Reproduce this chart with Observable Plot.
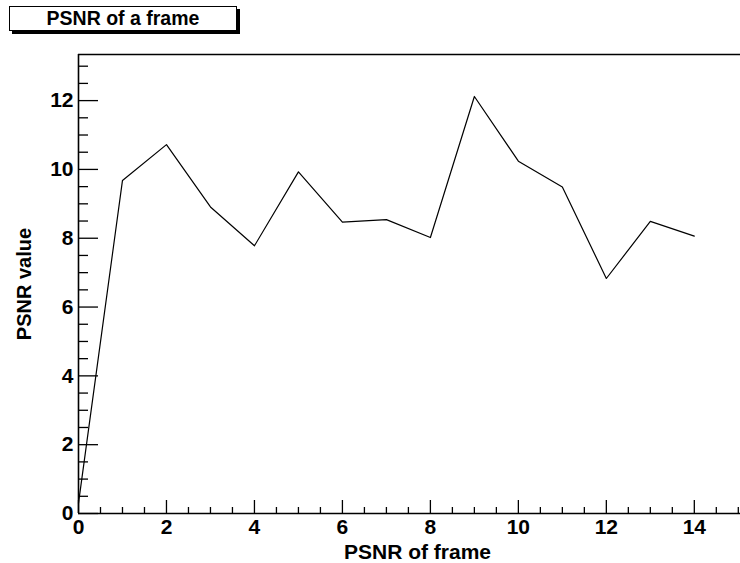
<!DOCTYPE html>
<html>
<head>
<meta charset="utf-8">
<script src="https://cdn.jsdelivr.net/npm/d3@7"></script>
<script src="https://cdn.jsdelivr.net/npm/@observablehq/plot@0.6"></script>
<style>
  html, body { margin: 0; padding: 0; background: #fff; }
  #wrap { position: relative; width: 740px; height: 563px; }
  #title {
    position: absolute; left: 9px; top: 6px; width: 228px; height: 25px;
    border: 1.5px solid #000; background: #fff; box-shadow: 3px 3px 0 #000;
    font: bold 19.5px "Liberation Sans", Arial, sans-serif; text-align: center;
    line-height: 22px; box-sizing: border-box; z-index: 2;
  }
</style>
</head>
<body>
<div id="wrap"><div id="title">PSNR of a frame</div></div>
<script>
const frames = [0, 1, 2, 3, 4, 5, 6, 7, 8, 9, 10, 11, 12, 13, 14];
const psnr   = [0.3, 9.68, 10.72, 8.91, 7.78, 9.93, 8.47, 8.54, 8.02, 12.12, 10.24, 9.49, 6.83, 8.49, 8.06];

const xDomain = [0, 15.05];
const yDomain = [0, 13.34];
const xMajor = [0, 2, 4, 6, 8, 10, 12, 14];
const xMinor = [0.5, 1, 1.5, 2.5, 3, 3.5, 4.5, 5, 5.5, 6.5, 7, 7.5, 8.5, 9, 9.5, 10.5, 11, 11.5, 12.5, 13, 13.5, 14.5, 15];
const yMajor = [0, 2, 4, 6, 8, 10, 12];
const yMinor = [0.5, 1, 1.5, 2.5, 3, 3.5, 4.5, 5, 5.5, 6.5, 7, 7.5, 8.5, 9, 9.5, 10.5, 11, 11.5, 12.5, 13];
const xTitle = ["PSNR of frame"];
const yTitle = ["PSNR value"];

const data = frames.map((f, i) => ({frame: f, value: psnr[i]}));

const chart = Plot.plot({
  width: 740,
  height: 563,
  marginTop: 54,
  marginLeft: 78,
  marginRight: 0,
  marginBottom: 50,
  style: {fontFamily: "'Liberation Sans', Arial, sans-serif", fontSize: "21px", fontWeight: "bold", color: "#000", background: "#fff"},
  x: {domain: xDomain, axis: null},
  y: {domain: yDomain, axis: null},
  marks: [
    Plot.ruleY([yDomain[1]], {stroke: "#000", strokeWidth: 1.5}),
    Plot.ruleX([xDomain[0]], {stroke: "#000", strokeWidth: 1.6}),
    Plot.ruleY([yDomain[0]], {stroke: "#000", strokeWidth: 1.6}),
    // y ticks (inward)
    Plot.axisY(yMajor, {anchor: "left", tickSize: -20, tickFormat: () => "", strokeWidth: 1.3, label: null}),
    Plot.axisY(yMinor, {anchor: "left", tickSize: -10, tickFormat: () => "", strokeWidth: 1.3, label: null}),
    Plot.axisY(yMajor, {anchor: "left", tickSize: 0, tickPadding: 5, label: null, fontSize: 21, fontWeight: "bold"}),
    // x ticks (inward)
    Plot.axisX(xMajor, {anchor: "bottom", tickSize: -13, tickFormat: () => "", strokeWidth: 1.3, label: null}),
    Plot.axisX(xMinor, {anchor: "bottom", tickSize: -6, tickFormat: () => "", strokeWidth: 1.3, label: null}),
    Plot.axisX(xMajor, {anchor: "bottom", tickSize: 0, tickPadding: 6, label: null, fontSize: 21, fontWeight: "bold"}),
    Plot.line(data, {x: "frame", y: "value", stroke: "#000", strokeWidth: 1.2}),
    Plot.text(yTitle, {frameAnchor: "left", textAnchor: "middle", lineAnchor: "middle", rotate: -90, dx: -54, fontSize: 20, fontWeight: "bold"}),
    Plot.text(xTitle, {frameAnchor: "bottom", textAnchor: "middle", lineAnchor: "bottom", dx: 8, dy: 45, fontSize: 21, fontWeight: "bold"})
  ]
});
document.getElementById("wrap").appendChild(chart);
</script>
</body>
</html>
